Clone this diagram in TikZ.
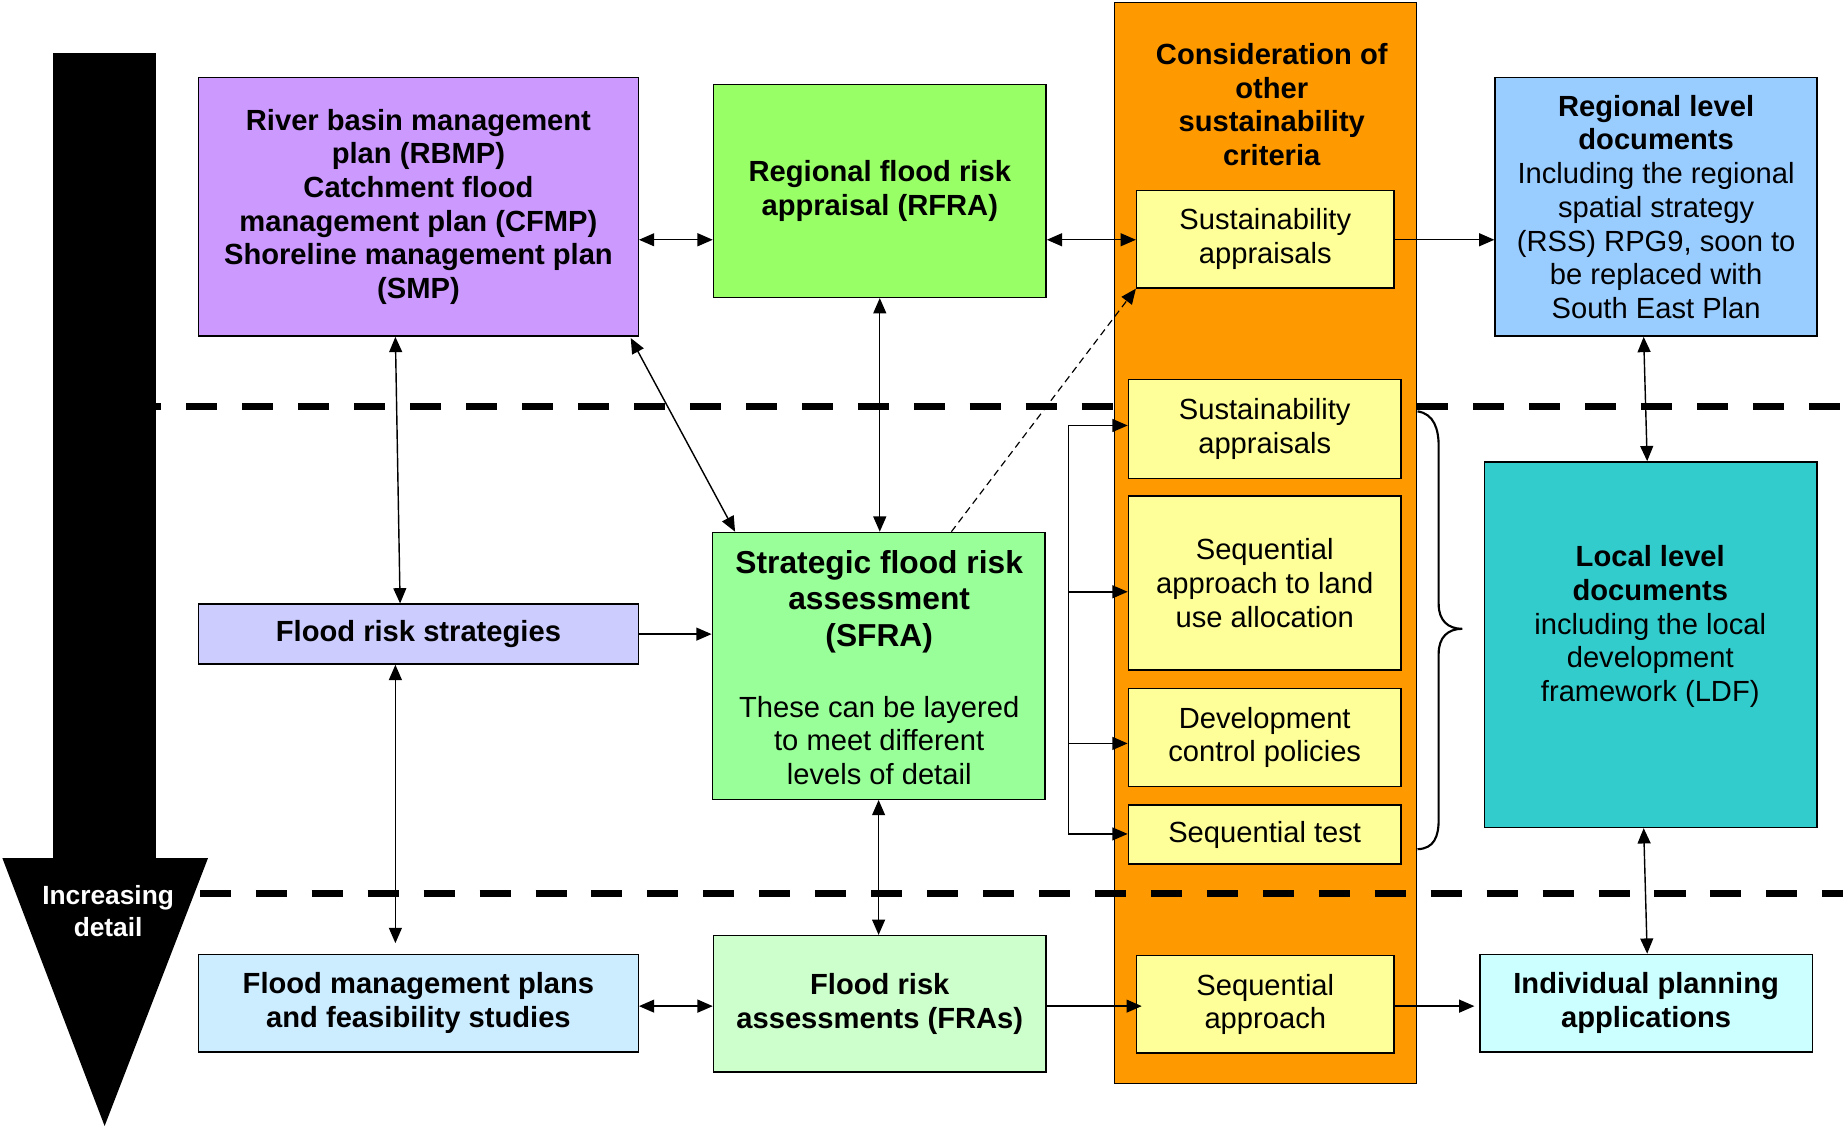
\documentclass[tikz,border=0pt]{standalone}
\usepackage{fontspec}
\setmainfont{Liberation Sans}
\usetikzlibrary{arrows.meta,calc}
\definecolor{cpurple}{HTML}{CC99FF}
\definecolor{cgreen}{HTML}{99FF66}
\definecolor{corange}{HTML}{FF9900}
\definecolor{cyellow}{HTML}{FFFF99}
\definecolor{cblue}{HTML}{99CCFF}
\definecolor{cteal}{HTML}{33CCCC}
\definecolor{clav}{HTML}{CCCCFF}
\definecolor{cmint}{HTML}{99FF99}
\definecolor{cpale}{HTML}{CCECFF}
\definecolor{cpgreen}{HTML}{CCFFCC}
\definecolor{ccyan}{HTML}{CCFFFF}
\newcommand\fsn{\fontsize{12.4pt}{14.35pt}\selectfont}
\newcommand\fsbig{\fontsize{13.5pt}{15.5pt}\selectfont}
\newcommand\fssm{\fontsize{11.2pt}{13.5pt}\selectfont}
\begin{document}
\begin{tikzpicture}[x=0.5pt,y=-0.5pt,
  bx/.style={draw=black, line width=0.6pt, inner sep=0pt, align=center, font=\fsn, anchor=center},
  bxb/.style={bx, font=\fsn\bfseries},
  sz/.style 2 args={minimum width=#1pt, minimum height=#2pt},
  txt/.style={inner sep=0pt, align=center, font=\fsn},
  ah/.tip={Triangle[length=6.5pt,width=5.5pt]},
  conn/.style={line width=0.6pt, -ah},
  dconn/.style={line width=0.6pt, ah-ah},
  sepline/.style={line width=2.9pt, dash pattern=on 13.2pt off 10.6pt}
]
\useasboundingbox (0,0) rectangle (1568,961);

% top separator (behind orange column)
\draw[sepline, dash phase=11pt] (133,346) -- (1568,346);

% increasing detail arrow
\fill[black] (45,45) rectangle (133,731);
\fill[black] (2,730) -- (177,730) -- (89,958) -- cycle;
\node[txt, font=\fssm\bfseries, text=white] (inc) at (92,775) {Increasing\\detail};

% orange column
\node[bx, fill=corange, sz={128.5}{460}] (orange) at (1076.5,462) {};
\node[txt, font=\fsn\bfseries] (cons) at (1082,89) {Consideration of\\other\\sustainability\\criteria};

% boxes
\node[bxb, fill=cpurple, sz={187}{110}] (rbmp) at (356,176) {River basin management\\plan (RBMP)\\Catchment flood\\management plan (CFMP)\\Shoreline management plan\\(SMP)};
\node[bxb, fill=cgreen, sz={141.5}{90.5}] (rfra) at (748.5,162.5) {Regional flood risk\\appraisal (RFRA)};
\node[bx, fill=cyellow, sz={109.5}{41.5}] (sa1) at (1076.5,203.5) {Sustainability\\appraisals};
\node[bx, fill=cblue, sz={137}{110}] (reg) at (1409,176) {{\bfseries Regional level}\\{\bfseries documents}\\Including the regional\\spatial strategy\\(RSS) RPG9, soon to\\be replaced with\\South East Plan};

\node[bx, fill=cyellow, sz={116}{42}] (sa2) at (1076,365) {Sustainability\\appraisals};
\node[bx, fill=cyellow, sz={116}{74}] (sla) at (1076,496) {Sequential\\approach to land\\use allocation};
\node[bx, fill=cyellow, sz={116}{41.5}] (dcp) at (1076,627.5) {Development\\control policies};
\node[bx, fill=cyellow, sz={116}{25}] (st) at (1076,710) {Sequential test};
\node[bx, fill=cyellow, sz={109.5}{41.5}] (seqa) at (1076.5,854.5) {Sequential\\approach};

\node[bx, fill=cteal, sz={141.5}{155.5}] (ldf) at (1404.5,548.5) {};
\node[txt] (ldft) at (1404,533) {{\bfseries Local level}\\{\bfseries documents}\\including the local\\development\\framework (LDF)};

\node[bxb, fill=clav, sz={187}{25.5}] (frs) at (356,539.5) {Flood risk strategies};
\node[bx, fill=cmint, sz={141.5}{113.5}] (sfra) at (747.5,566.5) {};
\node[txt, font=\fsbig\bfseries] (sfrat) at (748,512) {Strategic flood risk\\assessment\\(SFRA)};
\node[txt] (sfrab) at (748,630) {These can be layered\\to meet different\\levels of detail};

\node[bxb, fill=cpale, sz={187}{41.5}] (fmp) at (356,853.5) {Flood management plans\\and feasibility studies};
\node[bxb, fill=cpgreen, sz={141.5}{58}] (fras) at (748.5,854) {Flood risk\\assessments (FRAs)};
\node[bxb, fill=ccyan, sz={141.5}{41.5}] (ind) at (1400.5,853.5) {Individual planning\\applications};

% bottom separator
\draw[sepline] (170,760) -- (1568,760);

% connectors
\coordinate (yA) at (0,204);
\coordinate (yB) at (0,856);
\draw[dconn] (rbmp.east |- yA) -- (rfra.west |- yA);
\draw[dconn] (rfra.east |- yA) -- (sa1.west |- yA);
\draw[conn] (sa1.east |- yA) -- (reg.west |- yA);
\draw[dconn] ($(rbmp.south west)+(168,0)$) -- ($(frs.north west)+(172,0)$);
\draw[dconn] ($(rbmp.south east)+(-7,1)$) -- ($(sfra.north west)+(20,0)$);
\draw[dconn] (rfra.south) -- (rfra.south |- sfra.north);
\draw[line width=0.5pt, dash pattern=on 3pt off 2pt, -ah] ($(sfra.north west)+(204,0)$) -- (sa1.south west);
\draw[conn] (frs.east) -- (sfra.west |- frs.east);
\draw[dconn] ($(frs.south west)+(168,0)$) -- ($(fmp.north west)+(168,-9)$);
\draw[dconn] (sfra.south) -- (sfra.south |- fras.north);
\draw[dconn] (fmp.east |- yB) -- (fras.west |- yB);
\draw[conn] (fras.east |- yB) -- ($(seqa.west |- yB)+(5,0)$);
\draw[conn] (seqa.east |- yB) -- ($(ind.west |- yB)+(-4,0)$);
\draw[dconn] ($(reg.south west)+(127,0)$) -- ($(ldf.north west)+(139,0)$);
\draw[dconn] ($(ldf.south west)+(136,0)$) -- ($(ind.north west)+(143,0)$);

% bracket of arrows into the yellow boxes
\coordinate (bk1) at (909,362);
\coordinate (bk2) at (909,503.5);
\coordinate (bk3) at (909,632.5);
\coordinate (bk4) at (909,709.5);
\draw[line width=0.6pt] (bk1) -- (bk4);
\draw[conn] (bk1) -- (sa2.west |- bk1);
\draw[conn] (bk2) -- (sla.west |- bk2);
\draw[conn] (bk3) -- (dcp.west |- bk3);
\draw[conn] (bk4) -- (st.west |- bk4);

% curly brace
\draw[line width=0.9pt] (1206,350) .. controls (1220,352) and (1224,365) .. (1224,380) -- (1224,514) .. controls (1224,528) and (1232,535) .. (1244,535) .. controls (1232,535) and (1224,542) .. (1224,556) -- (1224,697) .. controls (1224,712) and (1220,722) .. (1206,722.5);
\end{tikzpicture}
\end{document}
